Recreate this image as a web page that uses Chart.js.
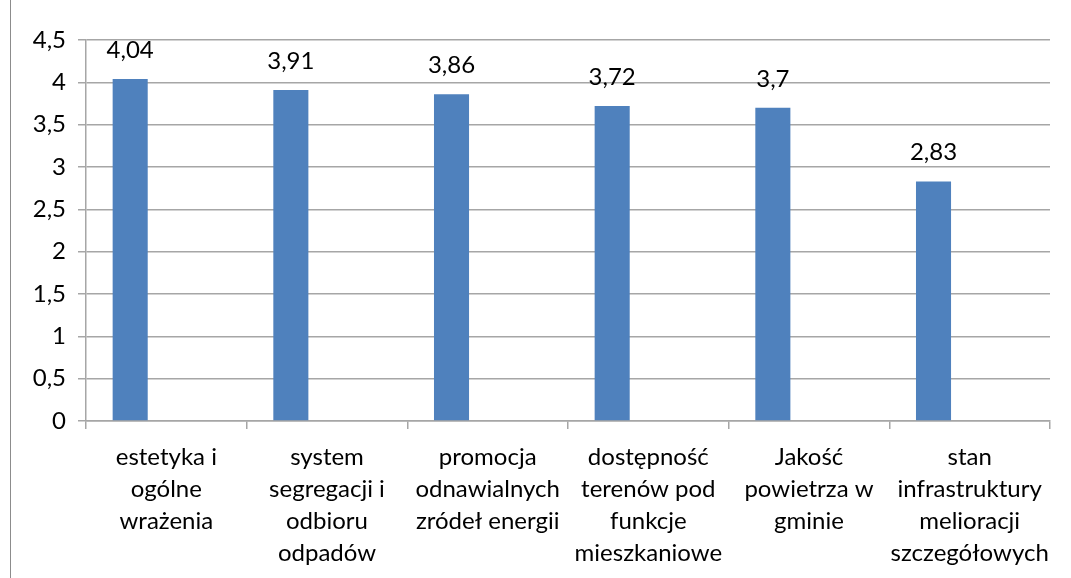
<!DOCTYPE html>
<html>
<head>
<meta charset="utf-8">
<script src="https://cdn.jsdelivr.net/npm/chart.js@4/dist/chart.umd.min.js"></script>
<style>
    html, body { margin: 0; padding: 0; background: #fff; }
    #wrap { width: 1071px; height: 578px; }
</style>
</head>
<body>
<div id="wrap"><canvas id="chart"></canvas></div>
<script>
// dane z wykresu
const categories = [
    ['estetyka i', 'ogólne', 'wrażenia'],
    ['system', 'segregacji i', 'odbioru', 'odpadów'],
    ['promocja', 'odnawialnych', 'zródeł energii'],
    ['dostępność', 'terenów pod', 'funkcje', 'mieszkaniowe'],
    ['Jakość', 'powietrza w', 'gminie'],
    ['stan', 'infrastruktury', 'melioracji', 'szczegółowych']
];
const values = [4.04, 3.91, 3.86, 3.72, 3.7, 2.83];
const emptySeries = [null, null, null, null, null, null];
const yTicks = [0, 0.5, 1, 1.5, 2, 2.5, 3, 3.5, 4, 4.5];

const FONT = "Lato, 'Open Sans', sans-serif";
const GRID = '#a6a6a6';

function fmt(v) {
    return String(v).replace('.', ',');
}

// etykiety wartości nad słupkami
const valueLabels = {
    id: 'valueLabels',
    afterDatasetsDraw(chart) {
        const ctx = chart.ctx;
        const meta = chart.getDatasetMeta(0);
        ctx.save();
        ctx.font = '24px ' + FONT;
        ctx.fillStyle = '#000';
        ctx.textAlign = 'center';
        ctx.textBaseline = 'alphabetic';
        meta.data.forEach(function (bar, i) {
            ctx.fillText(fmt(values[i]), bar.x, bar.y - 21);
        });
        ctx.restore();
    }
};

// ramka po lewej stronie
const frame = {
    id: 'frame',
    beforeDraw(chart) {
        const ctx = chart.ctx;
        ctx.save();
        ctx.strokeStyle = '#8c8c8c';
        ctx.lineWidth = 1;
        ctx.beginPath();
        ctx.moveTo(10.5, 0);
        ctx.lineTo(10.5, chart.height);
        ctx.stroke();
        ctx.restore();
    }
};

new Chart(document.getElementById('chart'), {
    type: 'bar',
    data: {
        labels: categories,
        datasets: [{
            data: values,
            backgroundColor: '#4F81BD',
            categoryPercentage: 0.9,
            barPercentage: 0.485
        }, {
            data: emptySeries,
            backgroundColor: '#C0504D',
            categoryPercentage: 0.9,
            barPercentage: 0.485
        }]
    },
    options: {
        responsive: true,
        maintainAspectRatio: false,
        animation: false,
        layout: { padding: { left: 0, top: 40, right: 21, bottom: 0 } },
        plugins: {
            legend: { display: false },
            tooltip: { enabled: false }
        },
        scales: {
            y: {
                min: 0,
                max: 4.5,
                afterBuildTicks: function (scale) {
                    scale.ticks = yTicks.map(v => ({ value: v }));
                },
                afterFit: function (scale) { scale.width = 86; },
                ticks: {
                    color: '#000',
                    padding: 12,
                    font: { family: FONT, size: 24 },
                    callback: function (value) { return fmt(value); }
                },
                grid: { color: GRID, lineWidth: 1.5, tickLength: 8 },
                border: { color: GRID, width: 1.5 }
            },
            x: {
                afterFit: function (scale) { scale.height = 157; },
                ticks: {
                    color: '#000',
                    padding: 12,
                    maxRotation: 0,
                    autoSkip: false,
                    font: { family: FONT, size: 24, lineHeight: 1.333 }
                },
                grid: { color: GRID, lineWidth: 1.5, tickLength: 8, drawOnChartArea: false },
                border: { color: GRID, width: 1.5 }
            }
        }
    },
    plugins: [valueLabels, frame]
});
</script>
</body>
</html>
